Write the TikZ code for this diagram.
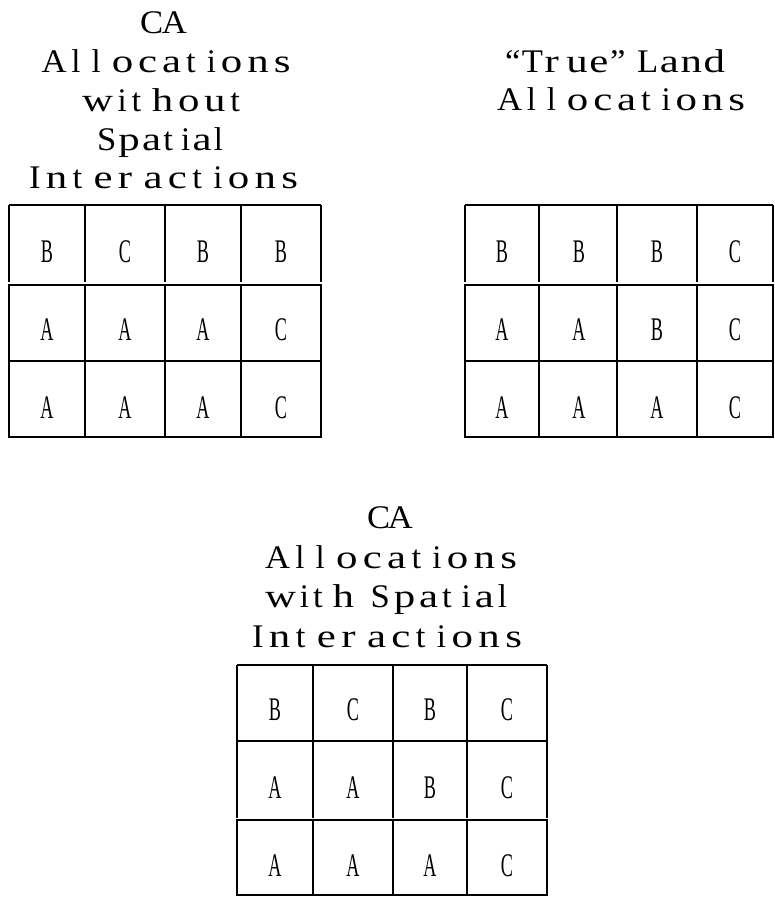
\documentclass[tikz,border=0pt]{standalone}
\usepackage{fontspec}
\usepackage{graphicx}
\setmainfont{Liberation Serif}

% ---- letter-spaced title lines -------------------------------------
% \fitline{<width>}{<text>} sets <text> spread evenly to <width>;
% write ~ for a word space.  Lower-case glyphs are widened, and a little
% extra room follows t, r and l.
\newdimen\trk
\newdimen\trkextra \trkextra=6pt
\newcount\trkn
\newsavebox\trkbox
\def\trkpend{}
\newcommand\trkscale[1]{%
  \def\trkcur{1.05}%
  \ifnum\lccode`#1=`#1 \def\trkcur{1.3}\fi
  \ifx#1l\def\trkcur{1.0}\fi
  \ifx#1i\def\trkcur{1.0}\fi
  \ifx#1t\def\trkcur{1.05}\fi}
\newcommand\trkafter[1]{%
  \def\trkpend{}%
  \ifx#1t\def\trkpend{\kern\trkextra}\fi
  \ifx#1r\def\trkpend{\kern\trkextra}\fi
  \ifx#1l\def\trkpend{\kern\trkextra}\fi}
\newcommand\trkglyph[1]{\trkscale{#1}\scalebox{\trkcur}[1]{#1}}
\def\trkfirst#1{\global\trkn=1 \trkglyph{#1}\trkafter{#1}\trkloop}
\def\trkloop#1{\ifx#1\relax\else
  \global\advance\trkn by 1 \kern\trk\trkpend\trkglyph{#1}\trkafter{#1}%
  \expandafter\trkloop\fi}
\newcommand\fitline[2]{%
  \trk=0pt
  \sbox\trkbox{\trkfirst#2\relax}%
  \trk=#1\relax
  \advance\trk by -\wd\trkbox
  \ifnum\trkn>1 \divide\trk by \numexpr\trkn-1\relax\fi
  \trkfirst#2\relax}

% narrow letters inside the cells
\newcommand\cellchar[1]{\scalebox{0.55}[1]{#1}}

\tikzset{
  gridline/.style={line width=1.7pt, black},
  titleline/.style={anchor=base, inner sep=0pt, font=\fontsize{33}{39}\selectfont},
  celltext/.style={anchor=base, inner sep=0pt, font=\fontsize{33}{39}\selectfont},
}

\begin{document}
\begin{tikzpicture}[x=1pt, y=-1pt]
\useasboundingbox (0,0) rectangle (775,903);

% ---------- titles ----------
\node[titleline] (ta1) at (163.5,33) {\fitline{47pt}{CA}};
\node[titleline] (ta2) at (166,72)   {\fitline{249pt}{Allocations}};
\node[titleline] (ta3) at (161,111)  {\fitline{158pt}{without}};
\node[titleline] (ta4) at (160,150)  {\fitline{126pt}{Spatial}};
\node[titleline] (ta5) at (163.5,188){\fitline{269pt}{Interactions}};

\node[titleline] (tb1) at (615,72)   {\fitline{220pt}{“True”~Land}};
\node[titleline] (tb2) at (621,110)  {\fitline{248pt}{Allocations}};

\node[titleline] (tc1) at (390,528)  {\fitline{46pt}{CA}};
\node[titleline] (tc2) at (391,568)  {\fitline{252pt}{Allocations}};
\node[titleline] (tc3) at (386,607)  {\fitline{242pt}{with~Spatial}};
\node[titleline] (tc4) at (387,647)  {\fitline{270pt}{Interactions}};

% ---------- grid 1 ----------
\draw[gridline] (9,205) -- (321,205);
\foreach \x in {9,85,165,241,321} \draw[gridline] (\x,205) -- (\x,282);
\draw[gridline] (9,285) rectangle (321,437);
\draw[gridline] (9,361) -- (321,361);
\foreach \x in {85,165,241} \draw[gridline] (\x,285) -- (\x,437);

% ---------- grid 2 ----------
\draw[gridline] (465,205) -- (773,205);
\foreach \x in {465,539,617,697,773} \draw[gridline] (\x,205) -- (\x,282);
\draw[gridline] (465,285) rectangle (773,437);
\draw[gridline] (465,361) -- (773,361);
\foreach \x in {539,617,697} \draw[gridline] (\x,285) -- (\x,437);

% ---------- grid 3 ----------
\draw[gridline] (237,665) -- (547,665);
\draw[gridline] (237,741) -- (547,741);
\foreach \x in {237,313,393,467,547} \draw[gridline] (\x,665) -- (\x,818);
\draw[gridline] (237,820) rectangle (547,895);
\foreach \x in {313,393,467} \draw[gridline] (\x,820) -- (\x,895);

% ---------- cell letters ----------
\foreach \x/\y/\t/\n in {
  47/262/B/a11, 125/262/C/a12, 203/262/B/a13, 281/262/B/a14,
  47/340/A/a21, 125/340/A/a22, 203/340/A/a23, 281/340/C/a24,
  47/418/A/a31, 125/418/A/a32, 203/418/A/a33, 281/418/C/a34}
  \node[celltext] (\n) at (\x,\y) {\cellchar{\t}};

\foreach \x/\y/\t/\n in {
  502/262/B/b11, 579/262/B/b12, 657/262/B/b13, 735/262/C/b14,
  502/340/A/b21, 579/340/A/b22, 657/340/B/b23, 735/340/C/b24,
  502/418/A/b31, 579/418/A/b32, 657/418/A/b33, 735/418/C/b34}
  \node[celltext] (\n) at (\x,\y) {\cellchar{\t}};

\foreach \x/\y/\t/\n in {
  275/720/B/c11, 353/720/C/c12, 430/720/B/c13, 507/720/C/c14,
  275/798/A/c21, 353/798/A/c22, 430/798/B/c23, 507/798/C/c24,
  275/876/A/c31, 353/876/A/c32, 430/876/A/c33, 507/876/C/c34}
  \node[celltext] (\n) at (\x,\y) {\cellchar{\t}};
\end{tikzpicture}
\end{document}
